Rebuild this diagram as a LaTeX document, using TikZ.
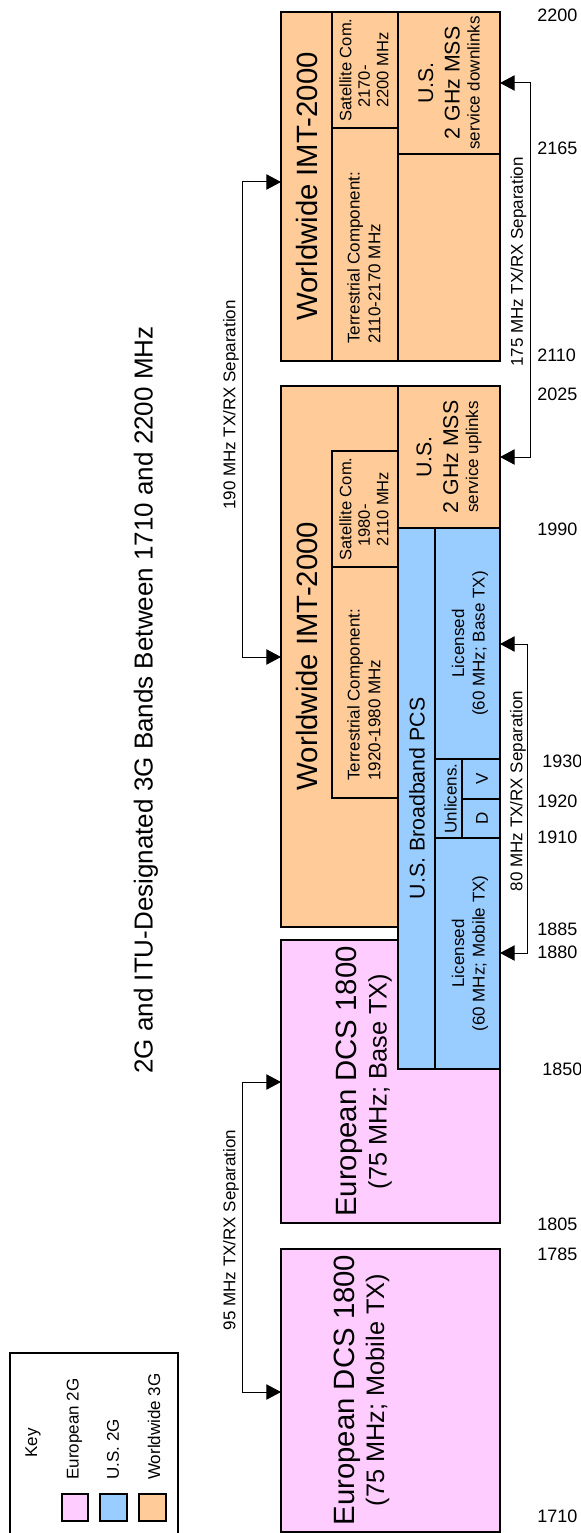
\documentclass[tikz,border=0pt]{standalone}
\usepackage{fontspec}
\setmainfont{Liberation Sans}
\usetikzlibrary{arrows.meta}

\definecolor{euro}{RGB}{255,204,255}
\definecolor{usblue}{RGB}{153,204,255}
\definecolor{imt}{RGB}{255,204,153}

\begin{document}
\begin{tikzpicture}[x=0.75pt,y=-0.75pt,
  euroband/.style={draw=black,line width=0.9pt,fill=euro},
  usband/.style={draw=black,line width=0.9pt,fill=usblue},
  imtband/.style={draw=black,line width=0.9pt,fill=imt},
  divider/.style={black,line width=0.9pt},
  sepline/.style={line width=0.75pt,{Triangle[length=11pt,width=11.5pt]}-{Triangle[length=11pt,width=11.5pt]}},
  vert/.style={rotate=90,inner sep=0pt},
  freq/.style={anchor=west,inner sep=0pt,font=\fontsize{13.5}{15}\selectfont},
  smalltext/.style={font=\fontsize{12.75}{15.5}\selectfont},
  sattext/.style={font=\fontsize{12.4}{13.9}\selectfont},
  msstext/.style={font=\fontsize{16}{20}\selectfont},
  bigtext/.style={font=\fontsize{22}{22.5}\selectfont}]
  \useasboundingbox (0,0) rectangle (581,1533);
  \clip (0,0) rectangle (581,1533);

  \node[vert,font=\fontsize{19.5}{22}\selectfont] (title) at (146,700) {2G and ITU-Designated 3G Bands Between 1710 and 2200 MHz};

  % key
  \draw[line width=0.9pt] (10,1353) rectangle (178,1545);
  \node[vert,smalltext] (key) at (33,1443) {Key};
  \draw[euroband] (62,1494) rectangle (88,1521);
  \draw[usband] (100,1494) rectangle (127,1521);
  \draw[imtband] (139,1494) rectangle (166,1521);
  \node[vert,smalltext,anchor=west] (keyeuro) at (74.5,1480) {European 2G};
  \node[vert,smalltext,anchor=west] (keyus) at (113,1480) {U.S. 2G};
  \node[vert,smalltext,anchor=west] (keyimt) at (154,1480) {Worldwide 3G};

  % 3G bands
  \draw[imtband] (281,12) rectangle (500,361);
  \draw[divider] (332,12) -- (332,361) (398,12) -- (398,361) (332,128) -- (398,128) (398,154) -- (500,154);
  \draw[imtband] (281,386) rectangle (500,927);
  \draw[divider] (398,386) -- (398,528);
  \draw[divider] (332,451) rectangle (398,798) (332,567) -- (398,567);

  % 2G bands
  \draw[euroband] (281,940) rectangle (500,1223);
  \draw[euroband] (281,1249) rectangle (500,1532);
  \draw[usband] (398,528) rectangle (500,1069);
  \draw[divider] (435,528) -- (435,1069) (435,759) -- (500,759) (435,838) -- (500,838)
    (462,759) -- (462,838) (462,799) -- (500,799);

  \node[vert,bigtext] (imtup) at (307,186.5) {Worldwide IMT-2000};
  \node[vert,bigtext] (imtlow) at (307,656) {Worldwide IMT-2000};
  \node[vert,sattext,align=center] (satup) at (364,70) {Satellite Com.\\2170\rlap{-}\phantom{ MHz}\\2200 MHz};
  \node[vert,sattext,align=center] (satlow) at (364,509) {Satellite Com.\\1980\rlap{-}\phantom{ MHz}\\2110 MHz};
  \node[vert,smalltext,align=left,anchor=north west] (terrup) at (347,344) {Terrestrial Component:\\2110-2170 MHz};
  \node[vert,smalltext,align=left,anchor=north west] (terrlow) at (347,781) {Terrestrial Component:\\1920-1980 MHz};
  \node[vert,msstext,align=center] (mssdown) at (449,83) {U.S.\\2 GHz MSS\\[-5pt]{\fontsize{12.75}{15}\selectfont service downlinks}};
  \node[vert,msstext,align=center] (mssup) at (449,457) {U.S.\\2 GHz MSS\\[-5pt]{\fontsize{12.75}{15}\selectfont service uplinks}};
  \node[vert,msstext] (pcs) at (417,798.5) {U.S. Broadband PCS};
  \node[vert,smalltext,align=center] (licbase) at (470,643.5) {Licensed\\(60 MHz; Base TX)};
  \node[vert,smalltext,align=center] (licmob) at (470,953.5) {Licensed\\(60 MHz; Mobile TX)};
  \node[vert,smalltext] (unlic) at (450.5,798.5) {Unlicens.};
  \node[vert,smalltext] (vband) at (482,779) {V};
  \node[vert,smalltext] (dband) at (482,818) {D};
  \node[vert,bigtext,align=center] (dcsbase) at (364,1081.5) {European DCS 1800\\\fontsize{19}{22.5}\selectfont(75 MHz; Base TX)};
  \node[vert,bigtext,align=center] (dcsmob) at (361.5,1390) {European DCS 1800\\\fontsize{19}{22.5}\selectfont(75 MHz; Mobile TX)};

  % TX/RX separations
  \coordinate (imtupW) at (281,182);
  \coordinate (imtlowW) at (281,657);
  \coordinate (dcsbaseW) at (281,1082);
  \coordinate (dcsmobW) at (281,1392);
  \coordinate (mssdownE) at (500,83);
  \coordinate (mssupE) at (500,457);
  \coordinate (licbaseE) at (500,644);
  \coordinate (licmobE) at (500,953);
  \draw[sepline] (imtupW) -- ++(-39,0) |- (imtlowW);
  \draw[sepline] (dcsbaseW) -- ++(-39,0) |- (dcsmobW);
  \draw[sepline] (mssdownE) -- ++(30,0) |- (mssupE);
  \draw[sepline] (licbaseE) -- ++(27,0) |- (licmobE);
  \node[vert,smalltext] (sep190) at (231,405) {190 MHz TX/RX Separation};
  \node[vert,smalltext] (sep95) at (231,1230) {95 MHz TX/RX Separation};
  \node[vert,smalltext] (sep175) at (518.5,262) {175 MHz TX/RX Separation};
  \node[vert,smalltext] (sep80) at (518,791) {80 MHz TX/RX Separation};

  % band edges
  \node[freq] (f2200) at (537,15) {2200};
  \node[freq] (f2165) at (537,148) {2165};
  \node[freq] (f2110) at (537,355) {2110};
  \node[freq] (f2025) at (537,394) {2025};
  \node[freq] (f1990) at (537,529) {1990};
  \node[freq] (f1930) at (542,761) {1930};
  \node[freq] (f1920) at (537,801) {1920};
  \node[freq] (f1910) at (537,837) {1910};
  \node[freq] (f1885) at (537,929) {1885};
  \node[freq] (f1880) at (537,952) {1880};
  \node[freq] (f1850) at (542,1069) {1850};
  \node[freq] (f1805) at (537,1224) {1805};
  \node[freq] (f1785) at (537,1254) {1785};
  \node[freq] (f1710) at (537,1516) {1710};
\end{tikzpicture}
\end{document}
